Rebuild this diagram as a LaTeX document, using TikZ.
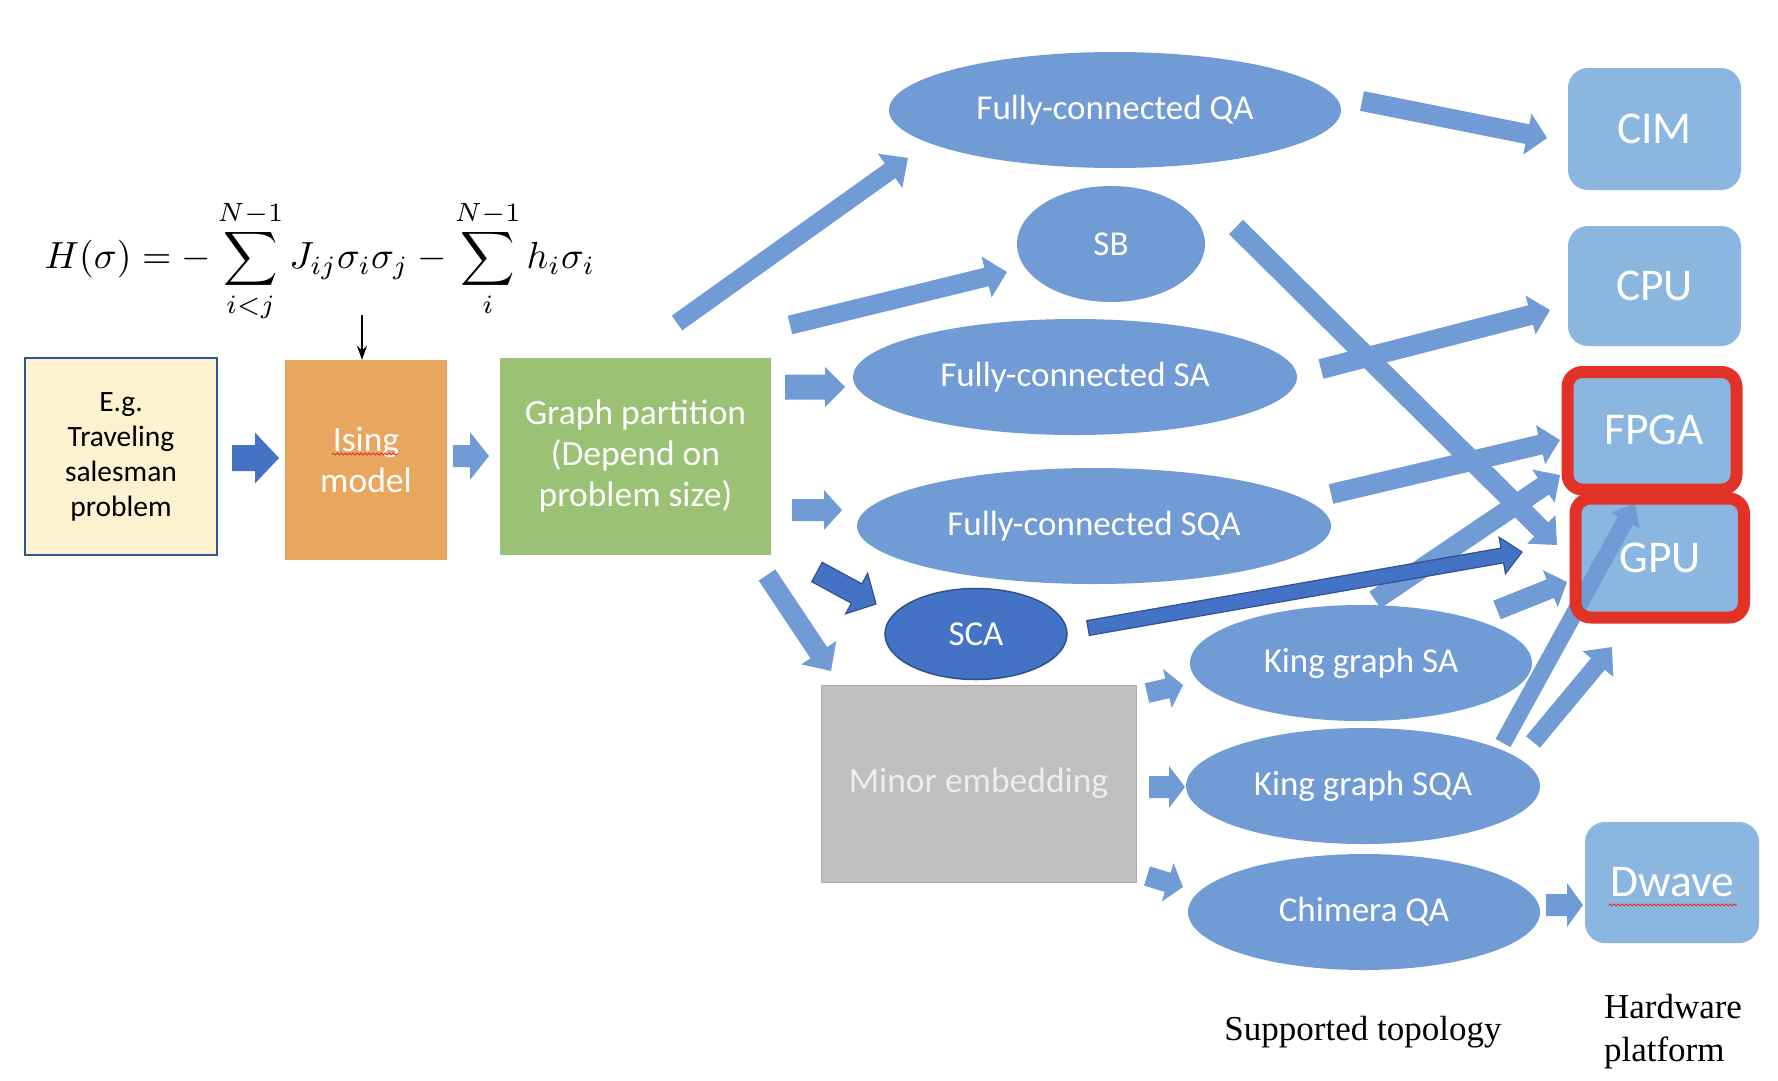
\documentclass[tikz,border=0pt]{standalone}
\usepackage[no-math]{fontspec}
\setmainfont{Carlito}
\newfontfamily\capserif{Liberation Serif}
\usetikzlibrary{calc,arrows.meta,shapes.geometric,decorations.pathmorphing}

\definecolor{ellblue}{RGB}{112,155,212}
\definecolor{hwblue}{RGB}{138,182,224}
\definecolor{darkblue}{RGB}{68,114,196}
\definecolor{darkedge}{RGB}{47,82,143}
\definecolor{hlred}{RGB}{226,50,39}
\definecolor{isingorange}{RGB}{233,166,95}
\definecolor{partgreen}{RGB}{155,193,117}
\definecolor{embgray}{RGB}{191,191,191}
\definecolor{embedge}{RGB}{170,170,170}
\definecolor{tspyellow}{RGB}{253,242,208}
\definecolor{tspedge}{RGB}{47,85,151}

% block arrow: [style]{tail}{tip}{shaft width}{head width}{head length}
\newcommand\blkarrow[6][]{%
  \fill[#1] let \p1=(#2), \p2=(#3),
    \n1={atan2(\y2-\y1,\x2-\x1)}, \n2={veclen(\x2-\x1,\y2-\y1)} in
    [shift={(\x1,\y1)}, rotate=\n1]
    (0,{#4/2}) -- ({\n2-#6},{#4/2}) -- ({\n2-#6},{#5/2}) -- (\n2,0)
    -- ({\n2-#6},{-#5/2}) -- ({\n2-#6},{-#4/2}) -- (0,{-#4/2}) -- cycle;}

\begin{document}
\begin{tikzpicture}[x=1pt,y=-1pt,
  boxtxt/.style={rectangle, inner sep=0pt, align=center, text=white,
    font=\fontsize{35.5}{41}\selectfont},
  topo/.style={ellipse, fill=ellblue, inner sep=0pt, text=white,
    font=\fontsize{35}{41}\selectfont},
  hw/.style={rectangle, rounded corners=20pt, fill=hwblue, text=white,
    inner sep=0pt, font=\fontsize{45.5}{50}\selectfont},
  hl/.style={draw=hlred, line width=12pt, rounded corners=15pt},
  lightarr/.style={fill=ellblue},
  darkarr/.style={fill=darkblue, draw=darkedge, line width=1.2pt, line join=miter},
  caption/.style={font=\capserif\fontsize{35}{43}\selectfont, text=black, inner sep=0pt},
  squiggle/.style={draw=hlred, line width=1pt, decorate,
    decoration={snake, segment length=4pt, amplitude=1pt}}
]
\useasboundingbox (0,0) rectangle (1778,1080);
\fill[white] (0,0) rectangle (1778,1080);

% formula
\node (eq) at (320,261) {\scalebox{3.78}{$\displaystyle H(\sigma)=-\sum_{i<j}^{N-1}J_{ij}\sigma_i\sigma_j-\sum_{i}^{N-1}h_i\sigma_i$}};

% left boxes
\node[rectangle, fill=tspyellow, draw=tspedge, line width=2pt, inner sep=0pt,
  minimum width=192pt, minimum height=197pt, align=center,
  font=\fontsize{29.5}{35}\selectfont] (tsp) at (121,456.5) {E.g.\\Traveling\\salesman\\problem};
\node[boxtxt, fill=isingorange, minimum width=162pt, minimum height=200pt] (ising) at (366,460) {Ising\\model};
\node[boxtxt, fill=partgreen, minimum width=271pt, minimum height=197pt] (part) at (635.5,456.5) {Graph partition\\(Depend on\\problem size)};
\node[boxtxt, fill=embgray, draw=embedge, line width=1pt, text=white!93!black,
  minimum width=315pt, minimum height=197pt] (emb) at (978.5,783.5) {Minor embedding};

% topologies
\node[topo, minimum width=452pt, minimum height=116pt] (fcqa) at (1115,110) {Fully-connected QA};
\node[topo, minimum width=188pt, minimum height=116pt] (sb) at (1111,244) {SB};
\node[topo, minimum width=444pt, minimum height=116pt] (fcsa) at (1075,377) {Fully-connected SA};
\node[topo, minimum width=474pt, minimum height=116pt] (fcsqa) at (1094,526) {Fully-connected SQA};
\node[topo, fill=darkblue, draw=darkedge, line width=1.5pt,
  minimum width=182pt, minimum height=91pt] (sca) at (976,634) {SCA};
\node[topo, minimum width=342pt, minimum height=116pt] (ksa) at (1361,663) {King graph SA};
\node[topo, minimum width=354pt, minimum height=116pt] (ksqa) at (1363,786) {King graph SQA};
\node[topo, minimum width=352pt, minimum height=116pt] (chim) at (1364,912) {Chimera QA};

% hardware
\node[hw, minimum width=173pt, minimum height=122pt] (cim) at (1654.5,129) {CIM};
\node[hw, minimum width=173pt, minimum height=120pt] (cpu) at (1654.5,286) {CPU};
\node[hw, minimum width=172pt, minimum height=120pt] (fpga) at (1654,430) {FPGA};
\node[hw, minimum width=168pt, minimum height=120pt] (gpu) at (1660,558) {GPU};
\node[hw, minimum width=174pt, minimum height=121pt] (dwave) at (1672,882.5) {Dwave};

% spell-check squiggles
\draw[squiggle] (332,454) -- (398,454);
\draw[squiggle] (1609,905) -- (1737,905);

% captions
\node[caption] (topocap) at (1363,1032) {Supported topology};
\node[caption, align=left] (hwcap) at (1673,1031.5) {Hardware\\platform};

% black arrow from the formula
\coordinate (eqfoot) at (362,315);
\draw[line width=1.6pt, -{Stealth[length=14pt,width=10pt]}] (eqfoot) -- (eqfoot |- ising.north);

% arrow end points
\coordinate (a2s) at (453,456);   \coordinate (a2e) at (489,456);
\coordinate (a3s) at (677,323);   \coordinate (a3e) at (908,158);
\coordinate (a4s) at (790,325);   \coordinate (a4e) at (1007,272);
\coordinate (a5s) at (785,387);   \coordinate (a5e) at (845,387);
\coordinate (a6s) at (792,510);   \coordinate (a6e) at (842,510);
\coordinate (a7s) at (767,575);   \coordinate (a7e) at (831,671);
\coordinate (a8s) at (1147,693);  \coordinate (a8e) at (1183,685);
\coordinate (a9s) at (1149,787);  \coordinate (a9e) at (1185,787);
\coordinate (a10s) at (1147,876); \coordinate (a10e) at (1183,887);
\coordinate (a11s) at (1362,101); \coordinate (a11e) at (1547,138);
\coordinate (a12s) at (1236,227); \coordinate (a12e) at (1557,545);
\coordinate (a13s) at (1321,369); \coordinate (a13e) at (1550,310);
\coordinate (a14s) at (1331,494); \coordinate (a14e) at (1560,440);
\coordinate (a15s) at (1375,600); \coordinate (a15e) at (1560,475);
\coordinate (a16s) at (1497,610); \coordinate (a16e) at (1567,582);
\coordinate (a17s) at (1503,743); \coordinate (a17e) at (1635,503);
\coordinate (a18s) at (1533,742); \coordinate (a18e) at (1612,647);
\coordinate (a19s) at (1546,905); \coordinate (a19e) at (1583,905);
\coordinate (d1s) at (232,458);   \coordinate (d1e) at (279,458);
\coordinate (d2s) at (817,572);   \coordinate (d2e) at (876,604);
\coordinate (d3s) at (1088,628);  \coordinate (d3e) at (1522,552);

% light block arrows
\blkarrow[lightarr]{a2s}{a2e}{22}{48}{19}
\blkarrow[lightarr]{a3s}{a3e}{18}{42}{22}
\blkarrow[lightarr]{a4s}{a4e}{19}{42}{21}
\blkarrow[lightarr]{a5s}{a5e}{25}{40}{20}
\blkarrow[lightarr]{a6s}{a6e}{22}{40}{18}
\blkarrow[lightarr]{a7s}{a7e}{20}{42}{22}
\blkarrow[lightarr]{a8s}{a8e}{20}{40}{16}
\blkarrow[lightarr]{a9s}{a9e}{22}{42}{16}
\blkarrow[lightarr]{a10s}{a10e}{20}{40}{16}
\blkarrow[lightarr]{a11s}{a11e}{20}{42}{20}
\blkarrow[lightarr]{a12s}{a12e}{20}{40}{22}
\blkarrow[lightarr]{a13s}{a13e}{20}{40}{20}
\blkarrow[lightarr]{a14s}{a14e}{20}{40}{20}
\blkarrow[lightarr]{a15s}{a15e}{20}{40}{20}
\blkarrow[lightarr]{a16s}{a16e}{20}{40}{18}
\blkarrow[lightarr]{a17s}{a17e}{17}{32}{20}
\blkarrow[lightarr]{a18s}{a18e}{18}{40}{22}
\blkarrow[lightarr]{a19s}{a19e}{22}{44}{16}

% dark block arrows
\blkarrow[fill=darkblue]{d1s}{d1e}{26}{51}{24}
\blkarrow[darkarr]{d2s}{d2e}{22}{46}{22}
\blkarrow[darkarr]{d3s}{d3e}{15}{37}{20}

% red highlight rings
\draw[hl] (1567.5,372) rectangle (1736.5,489.5);
\draw[hl] (1575.5,498.5) rectangle (1744,617.5);
\end{tikzpicture}
\end{document}
